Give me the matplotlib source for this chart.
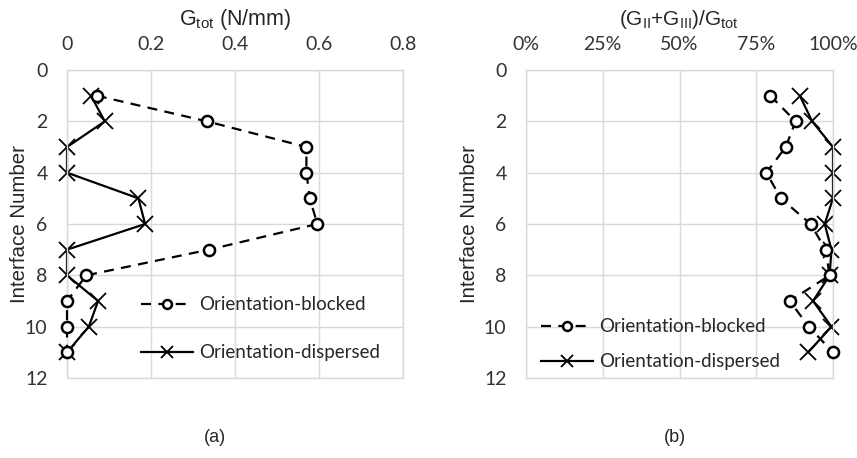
import matplotlib
matplotlib.use("Agg")
import matplotlib.pyplot as plt

plt.rcParams['mathtext.fontset'] = 'custom'
plt.rcParams['mathtext.rm'] = 'Liberation Sans'
plt.rcParams['mathtext.it'] = 'Liberation Sans'

interface = [1, 2, 3, 4, 5, 6, 7, 8, 9, 10, 11]

gtot_blocked = [0.071, 0.333, 0.570, 0.570, 0.578, 0.596, 0.338, 0.046, 0.0, 0.0, 0.0]
gtot_dispersed = [0.057, 0.090, 0.0, 0.0, 0.170, 0.186, 0.0, 0.0, 0.074, 0.052, 0.0]

ratio_blocked = [0.796, 0.878, 0.846, 0.783, 0.830, 0.927, 0.976, 0.989, 0.859, 0.921, 1.0]
ratio_dispersed = [0.892, 0.932, 1.0, 1.0, 1.0, 0.973, 0.995, 0.989, 0.935, 0.995, 0.919]

label_blocked = "Orientation-blocked"
label_dispersed = "Orientation-dispersed"
y_ticks = [0, 2, 4, 6, 8, 10, 12]
left_xticks = [0, 0.2, 0.4, 0.6, 0.8]
left_xticklabels = ["0", "0.2", "0.4", "0.6", "0.8"]
right_xticks = [0, 0.25, 0.5, 0.75, 1.0]
right_xticklabels = ["0%", "25%", "50%", "75%", "100%"]

tick_font = "Lato"
label_font = "Liberation Sans"
grid_color = "#d9d9d9"
text_color = "#262626"

fig = plt.figure(figsize=(8.57, 4.58), dpi=100)
ax1 = fig.add_axes([67/857, 1-378/458, (403-67)/857, (378-70)/458])
ax2 = fig.add_axes([526/857, 1-378/458, (833-526)/857, (378-70)/458])

def style(ax, xticks, xticklabels, xlim, title, title_size, ylabel_x):
    ax.set_xlim(*xlim)
    ax.set_ylim(12, 0)
    ax.xaxis.tick_top()
    ax.xaxis.set_label_position('top')
    ax.set_xticks(xticks)
    ax.set_xticklabels(xticklabels, fontfamily=tick_font, fontsize=14, color="#333333")
    ax.set_yticks(y_ticks)
    ax.set_yticklabels([str(v) for v in y_ticks], fontfamily=tick_font, fontsize=14, color="#333333")
    ax.tick_params(axis='y', length=0, pad=14)
    ax.tick_params(axis='x', length=0, pad=12)
    ax.grid(True, color=grid_color, linewidth=1.0)
    ax.set_axisbelow(True)
    for s in ax.spines.values():
        s.set_color(grid_color)
        s.set_linewidth(1.0)
    ax.set_xlabel(title, fontfamily=label_font, fontsize=title_size, labelpad=8, color=text_color)
    ax.set_ylabel("Interface Number", fontfamily=label_font, fontsize=14.8, color=text_color)
    ax.yaxis.set_label_coords(ylabel_x, 0.5)

def plot_series(ax, xb, xd):
    ax.plot(xb, interface, color='black', linestyle=(0, (4.5, 3.3)), linewidth=1.6,
            marker='o', markersize=8, markerfacecolor='white', markeredgecolor='black',
            markeredgewidth=1.8, label=label_blocked, zorder=3, clip_on=False)
    ax.plot(xd, interface, color='black', linestyle='-', linewidth=1.6,
            marker='x', markersize=11, markeredgewidth=1.3, label=label_dispersed, zorder=2,
            clip_on=False)

plot_series(ax1, gtot_blocked, gtot_dispersed)
plot_series(ax2, ratio_blocked, ratio_dispersed)

style(ax1, left_xticks, left_xticklabels, (0, 0.8), r"G$_{\rm tot}$ (N/mm)", 15.5, (29-67)/336)
style(ax2, right_xticks, right_xticklabels, (0, 1.0), r"(G$_{\rm II}$+G$_{\rm III}$)/G$_{\rm tot}$", 15, (479-526)/307)

ax1.legend(loc='upper left', bbox_to_anchor=((133-67)/336, 1-(289-70)/308), borderaxespad=0,
           frameon=False, handlelength=2.8, handletextpad=0.3, labelspacing=1.65, markerscale=0.8,
           prop={'family': tick_font, 'size': 13.5}, labelcolor=text_color)
ax2.legend(loc='upper left', bbox_to_anchor=((533-526)/307, 1-(311-70)/308), borderaxespad=0,
           frameon=False, handlelength=2.8, handletextpad=0.3, labelspacing=0.95, markerscale=0.8,
           prop={'family': tick_font, 'size': 13.5}, labelcolor=text_color)

fig.text(215/857, 1-437/458, "(a)", ha='center', va='center', fontfamily=label_font, fontsize=13, color=text_color)
fig.text(675/857, 1-437/458, "(b)", ha='center', va='center', fontfamily=label_font, fontsize=13, color=text_color)

fig.savefig("out.png", dpi=100, facecolor='white')
